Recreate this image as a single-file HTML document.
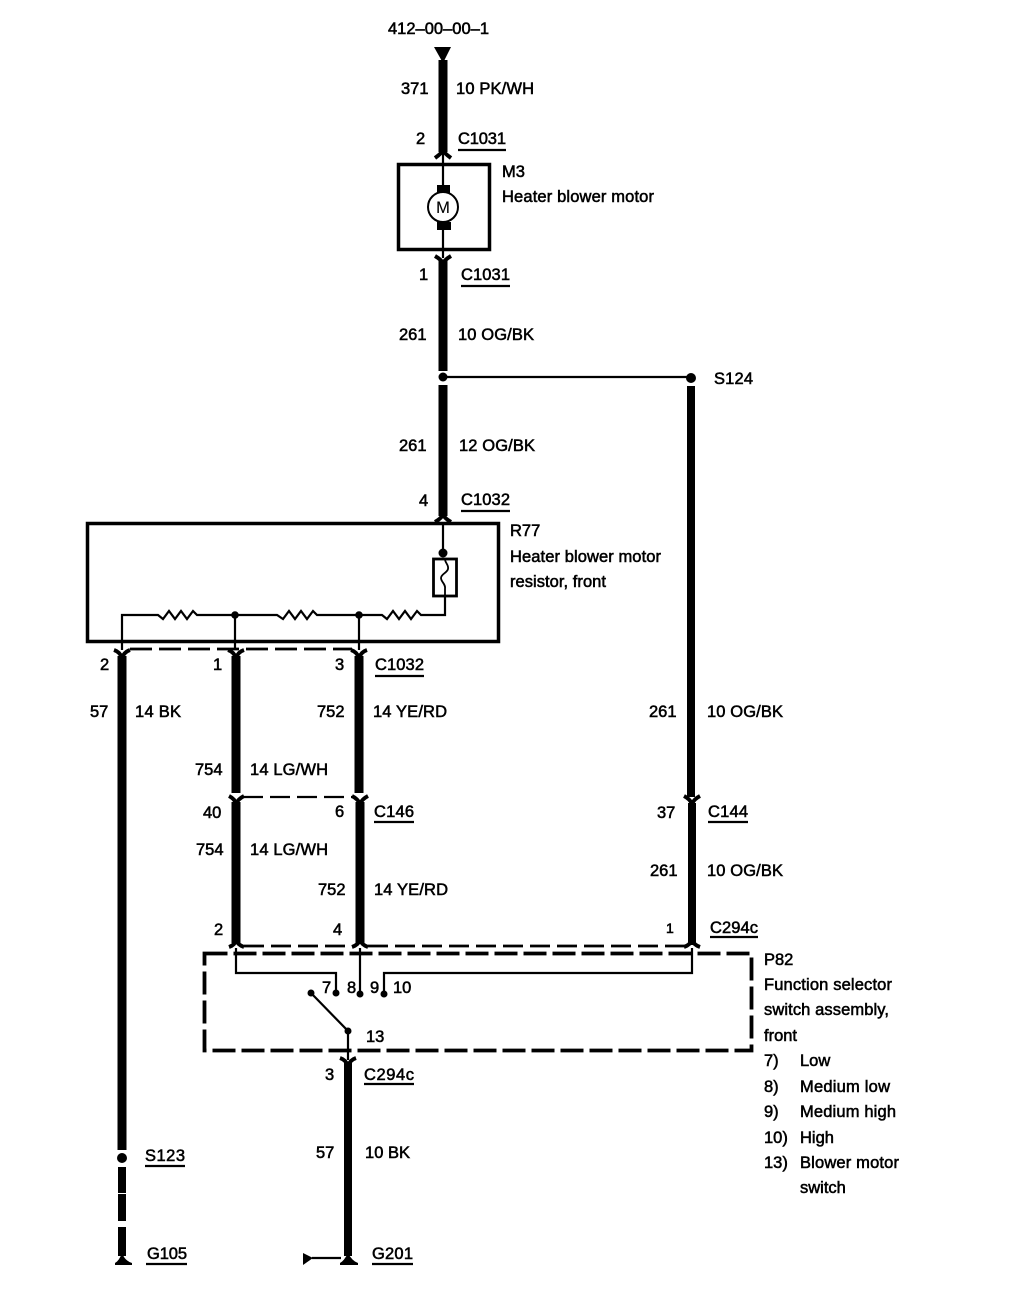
<!DOCTYPE html>
<html>
<head>
<meta charset="utf-8">
<style>
html,body{margin:0;padding:0;background:#fff}
svg{display:block}
text{font-family:"Liberation Sans",sans-serif;font-size:16.5px;fill:#000;stroke:#000;stroke-width:.55}
.w{stroke:#000;fill:none}
.t{stroke-width:2.200}
.k{stroke-width:9}
.f{stroke-width:4;stroke:#000;fill:none}
.d{fill:#000}
</style>
</head>
<body>
<svg width="1024" height="1312" viewBox="0 0 1024 1312" xmlns="http://www.w3.org/2000/svg">
<rect width="1024" height="1312" fill="#fff"/>

<!-- top wire -->
<polygon class="d" points="434,47 451,47 443,63"/>
<path class="w k" d="M443 60V152"/>
<path class="f" d="M435 158Q442 153 443 150Q444 153 451 158"/>
<path class="w t" d="M443 152V190M443 222V258"/>

<!-- M3 -->
<rect x="398.500" y="164.500" width="91" height="85" fill="none" stroke="#000" stroke-width="3.500"/>
<rect class="d" x="437" y="185" width="13" height="8"/>
<rect class="d" x="437" y="222" width="14" height="8"/>
<circle cx="443" cy="207" r="15" fill="#fff" stroke="#000" stroke-width="2"/>
<text x="443" y="213" text-anchor="middle" style="stroke-width:.1">M</text>

<path class="f" d="M435 256Q442 260 443 264Q444 260 451 256"/>
<path class="w k" d="M443 260V371M443 385V516"/>
<circle class="d" cx="443" cy="377" r="4.500"/>
<path class="w t" d="M443 377H691"/>
<circle class="d" cx="691" cy="378" r="5"/>
<path class="w k" d="M691 386V797M692 803V945" style="stroke-width:8"/>

<!-- R77 -->
<path class="f" d="M435 522Q442 518 443 514Q444 518 451 522"/>
<rect x="87.500" y="523.500" width="411" height="118" fill="none" stroke="#000" stroke-width="3.500"/>
<path class="w t" d="M443 524V553"/>
<circle class="d" cx="443" cy="553" r="4.500"/>
<rect x="433.500" y="559" width="23" height="37" fill="none" stroke="#000" stroke-width="2.800"/>
<path class="w t" d="M445 559C445 563 449 565 448 569C447 573 441 574 441 578C441 582 446 584 445 589V596" style="stroke-width:1.800"/>
<path class="w t" d="M445 596V615H421L417 611L411 619L405 611L399 619L393 611L387 619L382 615H359H317L313 611L307 619L301 611L295 619L289 611L283 619L277 615H197L193 611L187 619L181 611L175 619L169 611L163 619L158 615H122V650"/>
<circle class="d" cx="235" cy="615" r="3.800"/>
<circle class="d" cx="359" cy="615" r="3.800"/>
<path class="w t" d="M235 615V650M359 615V650"/>

<path class="w" stroke-width="2.800" stroke-dasharray="22 7" d="M130 649H352"/>
<path class="f" d="M114 650Q120 652 122 658Q124 652 130 650"/>
<path class="f" d="M228 650Q234 652 236 658Q238 652 244 650"/>
<path class="f" d="M351 650Q357 652 359 658Q361 652 367 650"/>
<path class="w k" d="M122 656V1150M236 656V793M359 656V793"/>

<!-- S123 -->
<circle class="d" cx="122" cy="1158" r="5"/>
<path class="w k" d="M122 1167V1193M122 1194V1221M122 1227V1256" style="stroke-width:8"/>
<path class="d" d="M115 1265V1263Q119 1261 122 1253Q125 1261 132 1263V1265Z"/>

<!-- C146 -->
<path class="w" stroke-width="2.200" stroke-dasharray="20 7" d="M243 797H352"/>
<path class="f" d="M229 796Q235 799 236 804Q238 799 244 796"/>
<path class="f" d="M352 796Q358 799 360 804Q362 799 368 796"/>
<path class="f" d="M684 796Q690 799 692 804Q694 799 700 796"/>
<path class="w k" d="M236 802V943M360 802V943"/>

<!-- C294c forks -->
<path class="f" d="M229 947Q235 945 236 940Q238 945 244 947"/>
<path class="f" d="M352 947Q358 945 360 940Q362 945 368 947"/>
<path class="f" d="M684 947Q690 945 692 940Q694 945 700 947"/>
<path class="w" stroke-width="2.800" stroke-dasharray="20 7" d="M244 946H352M368 946H685"/>

<!-- P82 -->
<rect x="204.500" y="953.500" width="547" height="97" fill="none" stroke="#000" stroke-width="3.800" stroke-dasharray="23 6"/>
<path class="w t" d="M236 948V973H336V993M360 948V994M384 994V973H692V948"/>
<circle class="d" cx="336" cy="993" r="3.500"/>
<circle class="d" cx="360" cy="994" r="3.500"/>
<circle class="d" cx="384" cy="994" r="3.500"/>
<circle class="d" cx="311" cy="993" r="3.500"/>
<circle class="d" cx="348" cy="1031" r="3.500"/>
<path class="w t" d="M311 993L348 1031V1060"/>

<path class="f" d="M340 1058Q346 1060 348 1066Q350 1060 356 1058"/>
<path class="w k" d="M348 1062V1256" style="stroke-width:8"/>
<path class="d" d="M340 1265V1263Q344 1261 348 1253Q352 1261 358 1263V1265Z"/>
<polygon class="d" points="303,1253 303,1265 313,1258"/>
<path class="w t" d="M312 1258H341"/>

<!-- underlines -->
<path class="w t" d="M458 150H506M461 286H510M461 511H510M375 676H424M374 822H414M708 822H748M710 937H758M364 1084H414M145 1166H185M146 1264H187M372 1264H413"/>

<!-- labels -->
<text x="388" y="34" textLength="101">412–00–00–1</text>
<text x="401" y="94">371</text>
<text x="456" y="94" textLength="78">10 PK/WH</text>
<text x="416" y="144">2</text>
<text x="458" y="144" textLength="48">C1031</text>
<text x="502" y="177">M3</text>
<text x="502" y="202" textLength="152">Heater blower motor</text>
<text x="419" y="280">1</text>
<text x="461" y="280" textLength="49">C1031</text>
<text x="399" y="340">261</text>
<text x="458" y="340" textLength="76">10 OG/BK</text>
<text x="714" y="384" textLength="39">S124</text>
<text x="399" y="451">261</text>
<text x="459" y="451" textLength="76">12 OG/BK</text>
<text x="419" y="506">4</text>
<text x="461" y="505" textLength="49">C1032</text>
<text x="510" y="536">R77</text>
<text x="510" y="562" textLength="151">Heater blower motor</text>
<text x="510" y="587" textLength="96">resistor, front</text>

<text x="100" y="670">2</text>
<text x="213" y="670">1</text>
<text x="335" y="670">3</text>
<text x="375" y="670" textLength="49">C1032</text>
<text x="90" y="717">57</text>
<text x="135" y="717" textLength="46">14 BK</text>
<text x="317" y="717">752</text>
<text x="373" y="717" textLength="74">14 YE/RD</text>
<text x="649" y="717">261</text>
<text x="707" y="717" textLength="76">10 OG/BK</text>
<text x="195" y="775">754</text>
<text x="250" y="775" textLength="78">14 LG/WH</text>
<text x="203" y="818">40</text>
<text x="335" y="817">6</text>
<text x="374" y="817" textLength="40">C146</text>
<text x="657" y="818">37</text>
<text x="708" y="817" textLength="40">C144</text>
<text x="196" y="855">754</text>
<text x="250" y="855" textLength="78">14 LG/WH</text>
<text x="318" y="895">752</text>
<text x="374" y="895" textLength="74">14 YE/RD</text>
<text x="650" y="876">261</text>
<text x="707" y="876" textLength="76">10 OG/BK</text>

<text x="214" y="935">2</text>
<text x="333" y="935">4</text>
<text x="666" y="933" style="font-size:14px">1</text>
<text x="710" y="933" textLength="48">C294c</text>
<text x="322" y="993">7</text>
<text x="347" y="993">8</text>
<text x="370" y="993">9</text>
<text x="393" y="993">10</text>
<text x="366" y="1042">13</text>
<text x="325" y="1080">3</text>
<text x="364" y="1080" textLength="50">C294c</text>

<text x="764" y="965">P82</text>
<text x="764" y="990" textLength="128">Function selector</text>
<text x="764" y="1015" textLength="125">switch assembly,</text>
<text x="764" y="1041">front</text>
<text x="764" y="1066">7)</text><text x="800" y="1066">Low</text>
<text x="764" y="1092">8)</text><text x="800" y="1092" textLength="90">Medium low</text>
<text x="764" y="1117">9)</text><text x="800" y="1117" textLength="96">Medium high</text>
<text x="764" y="1143">10)</text><text x="800" y="1143">High</text>
<text x="764" y="1168">13)</text><text x="800" y="1168" textLength="99">Blower motor</text>
<text x="800" y="1193">switch</text>

<text x="145" y="1161" textLength="40">S123</text>
<text x="316" y="1158">57</text>
<text x="365" y="1158" textLength="45">10 BK</text>
<text x="147" y="1259" textLength="40">G105</text>
<text x="372" y="1259" textLength="41">G201</text>
</svg>
</body>
</html>
